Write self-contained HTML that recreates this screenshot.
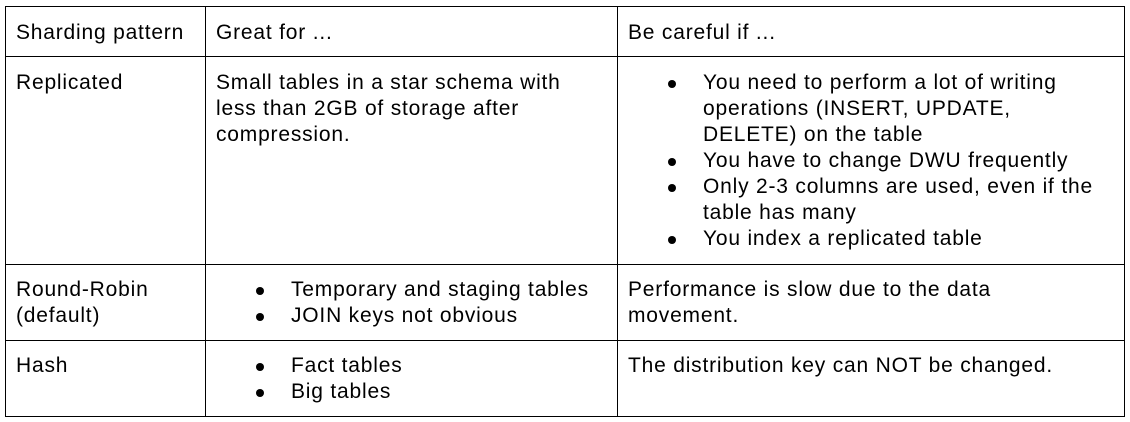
<!DOCTYPE html>
<html><head><style>
body{margin:0;width:1130px;height:422px;background:#fff;position:relative;font-family:"Liberation Sans",Arial,sans-serif;font-size:21px;letter-spacing:0.8px;color:#000;overflow:hidden}
.l{position:absolute;background:#000}
.t{position:absolute;line-height:26px;white-space:nowrap;margin-top:1px}
.b{position:absolute;width:8px;height:8px;border-radius:50%;background:#000;margin-top:1px}
</style></head><body>
<div class="l" style="left:5px;top:6px;width:1120px;height:1px"></div>
<div class="l" style="left:5px;top:56px;width:1120px;height:1px"></div>
<div class="l" style="left:5px;top:264px;width:1120px;height:1px"></div>
<div class="l" style="left:5px;top:340px;width:1120px;height:1px"></div>
<div class="l" style="left:5px;top:416px;width:1120px;height:1px"></div>
<div class="l" style="left:5px;top:6px;width:1px;height:411px"></div>
<div class="l" style="left:205px;top:6px;width:1px;height:411px"></div>
<div class="l" style="left:617px;top:6px;width:1px;height:411px"></div>
<div class="l" style="left:1124px;top:6px;width:1px;height:411px"></div>

<div class="t" style="left:16px;top:19px">Sharding pattern</div>
<div class="t" style="left:216px;top:19px">Great for ...</div>
<div class="t" style="left:628px;top:19px">Be careful if ...</div>

<div class="t" style="left:16px;top:69px">Replicated</div>
<div class="t" style="left:216px;top:69px">Small tables in a star schema with<br>less than 2GB of storage after<br>compression.</div>
<div class="b" style="left:668px;top:79px"></div>
<div class="t" style="left:703px;top:69px">You need to perform a lot of writing<br>operations (INSERT, UPDATE,<br>DELETE) on the table</div>
<div class="b" style="left:668px;top:157px"></div>
<div class="t" style="left:703px;top:147px">You have to change DWU frequently</div>
<div class="b" style="left:668px;top:183px"></div>
<div class="t" style="left:703px;top:173px">Only 2-3 columns are used, even if the<br>table has many</div>
<div class="b" style="left:668px;top:235px"></div>
<div class="t" style="left:703px;top:225px">You index a replicated table</div>

<div class="t" style="left:16px;top:276px">Round-Robin<br>(default)</div>
<div class="b" style="left:256px;top:286px"></div>
<div class="t" style="left:291px;top:276px">Temporary and staging tables</div>
<div class="b" style="left:256px;top:312px"></div>
<div class="t" style="left:291px;top:302px">JOIN keys not obvious</div>
<div class="t" style="left:628px;top:276px">Performance is slow due to the data<br>movement.</div>

<div class="t" style="left:16px;top:352px">Hash</div>
<div class="b" style="left:256px;top:362px"></div>
<div class="t" style="left:291px;top:352px">Fact tables</div>
<div class="b" style="left:256px;top:388px"></div>
<div class="t" style="left:291px;top:378px">Big tables</div>
<div class="t" style="left:628px;top:352px">The distribution key can NOT be changed.</div>
</body></html>
